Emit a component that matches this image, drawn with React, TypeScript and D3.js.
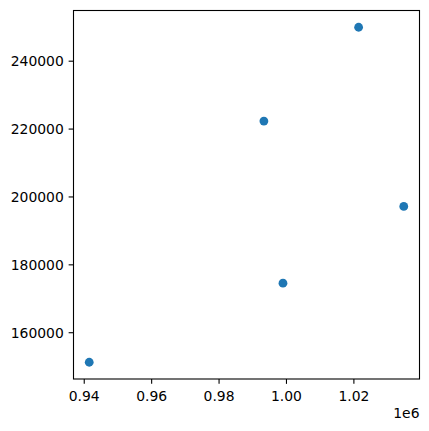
import React from "react";
import * as d3 from "d3";

const xValues = [941480, 993300, 1021400, 1034800, 998960];
const yValues = [151300, 222350, 250000, 197200, 174600];
const xTicks = [940000, 960000, 980000, 1000000, 1020000];
const xTickLabels = ["0.94", "0.96", "0.98", "1.00", "1.02"];
const yTicks = [160000, 180000, 200000, 220000, 240000];
const yTickLabels = ["160000", "180000", "200000", "220000", "240000"];
const offsetText = "1e6";

const W = 429;
const H = 431;
const left = 73.5;
const right = 419.5;
const top = 10.5;
const bottom = 379;
const fontSize = 13.9;
const tickLen = 4.86;
const pad = 4.86;
const color = "#1f77b4";

function withMargin(vals: number[]): [number, number] {
  const [lo, hi] = d3.extent(vals) as [number, number];
  const m = (hi - lo) * 0.05;
  return [lo - m, hi + m];
}

export default function App() {
  const x = d3.scaleLinear().domain(withMargin(xValues)).range([left, right]);
  const y = d3.scaleLinear().domain(withMargin(yValues)).range([bottom, top]);
  const font = "'DejaVu Sans', sans-serif";
  return (
    <svg
      width={W}
      height={H}
      style={{ position: "absolute", left: 0, top: 0, background: "#fff" }}
      fontFamily={font}
      fontSize={fontSize}
    >
      <rect x={0} y={0} width={W} height={H} fill="#fff" />
      {xValues.map((xv, i) => (
        <circle key={i} cx={x(xv)} cy={y(yValues[i])} r={4.4} fill={color} />
      ))}
      <rect
        x={left}
        y={top}
        width={right - left}
        height={bottom - top}
        fill="none"
        stroke="#000"
        strokeWidth={1.1}
      />
      {xTicks.map((t, i) => (
        <g key={"x" + i}>
          <line x1={x(t)} x2={x(t)} y1={bottom} y2={bottom + tickLen} stroke="#000" strokeWidth={1.1} />
          <text x={x(t)} y={bottom + tickLen + pad + 12.2} textAnchor="middle" fill="#000">
            {xTickLabels[i]}
          </text>
        </g>
      ))}
      {yTicks.map((t, i) => (
        <g key={"y" + i}>
          <line x1={left - tickLen} x2={left} y1={y(t)} y2={y(t)} stroke="#000" strokeWidth={1.1} />
          <text x={left - tickLen - pad} y={y(t) + 5} textAnchor="end" fill="#000">
            {yTickLabels[i]}
          </text>
        </g>
      ))}
      <text x={right} y={417.5} textAnchor="end" fill="#000">
        {offsetText}
      </text>
    </svg>
  );
}
